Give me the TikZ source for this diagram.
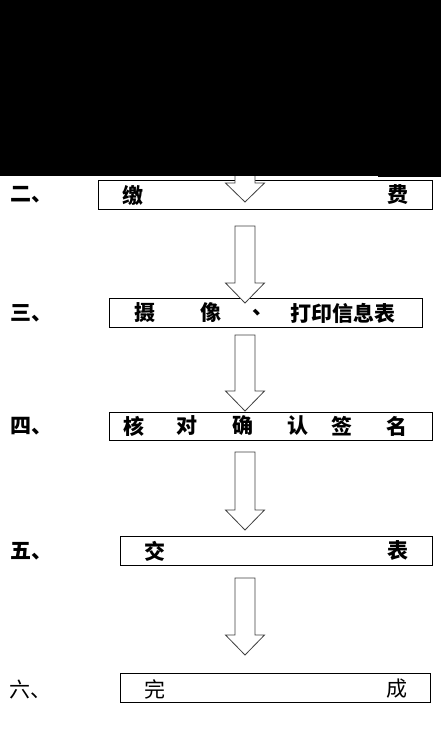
\documentclass[tikz,border=0pt]{standalone}
\usepackage{fontspec}
\newfontfamily\cjk{Noto Sans CJK SC}
\newcommand\blockarr[5]{% name, x, top, base, tip
  \draw[arr] (#2-10,#3) coordinate (#1) -- (#2+10,#3) -- (#2+10,#4) -- (#2+19.5,#4) -- (#2,#5) -- (#2-19.5,#4) -- (#2-10,#4) -- cycle;}
\begin{document}
\begin{tikzpicture}[x=1pt,y=-1pt,
  box/.style={draw=black, line width=1.2pt, inner sep=0pt, anchor=north west},
  arr/.style={draw=black!75, line width=0.8pt, fill=white, line join=miter},
  bt/.style={font=\cjk\bfseries\fontsize{21}{21}\selectfont, inner sep=0pt},
  rt/.style={font=\cjk\fontsize{21}{21}\selectfont, inner sep=0pt},
  lab/.style={bt, anchor=west},
  rlab/.style={rt, anchor=west}]
\useasboundingbox (0,0) rectangle (441,731);
% boxes
\node[box, minimum width=334pt, minimum height=29pt] (b2) at (98,180) {};
\node[box, minimum width=313pt, minimum height=29pt] (b3) at (109,298) {};
\node[box, minimum width=323pt, minimum height=28pt] (b4) at (109,412) {};
\node[box, minimum width=312pt, minimum height=29pt] (b5) at (120,536) {};
\node[box, minimum width=310pt, minimum height=29pt] (b6) at (120,673) {};
% block arrows
\blockarr{a1}{245}{150}{183}{202}
\blockarr{a2}{245}{226}{283}{303}
\blockarr{a3}{245}{335}{391}{411}
\blockarr{a4}{245}{452}{510}{530}
\blockarr{a5}{245}{578}{635}{655}
% top black band
\fill[black] (0,0) rectangle (441,176);
\fill[black] (378,176) rectangle (441,177);
% step labels
\node[lab] (l2) at (10,195) {二、};
\node[lab] (l3) at (10,313) {三、};
\node[lab] (l4) at (10,426) {四、};
\node[lab] (l5) at (10,551) {五、};
\node[rlab] (l6) at (9,689) {六、};
% box texts
\node[bt] (t2a) at (133,195) {缴};
\node[bt] (t2b) at (398,195) {费};
\node[bt] (t3a) at (145,313) {摄};
\node[bt] (t3b) at (211,313) {像};
\node[bt] (t3c) at (263,313) {、};
\node[bt] (t3d) at (343,313) {打印信息表};
\node[bt] (t4a) at (134,426) {核};
\node[bt] (t4b) at (187,426) {对};
\node[bt] (t4c) at (243,426) {确};
\node[bt] (t4d) at (298,426) {认};
\node[bt] (t4e) at (342,426) {签};
\node[bt] (t4f) at (397,426) {名};
\node[bt] (t5a) at (155,551) {交};
\node[bt] (t5b) at (398,551) {表};
\node[rt] (t6a) at (155,689) {完};
\node[rt] (t6b) at (397,689) {成};
\end{tikzpicture}
\end{document}
